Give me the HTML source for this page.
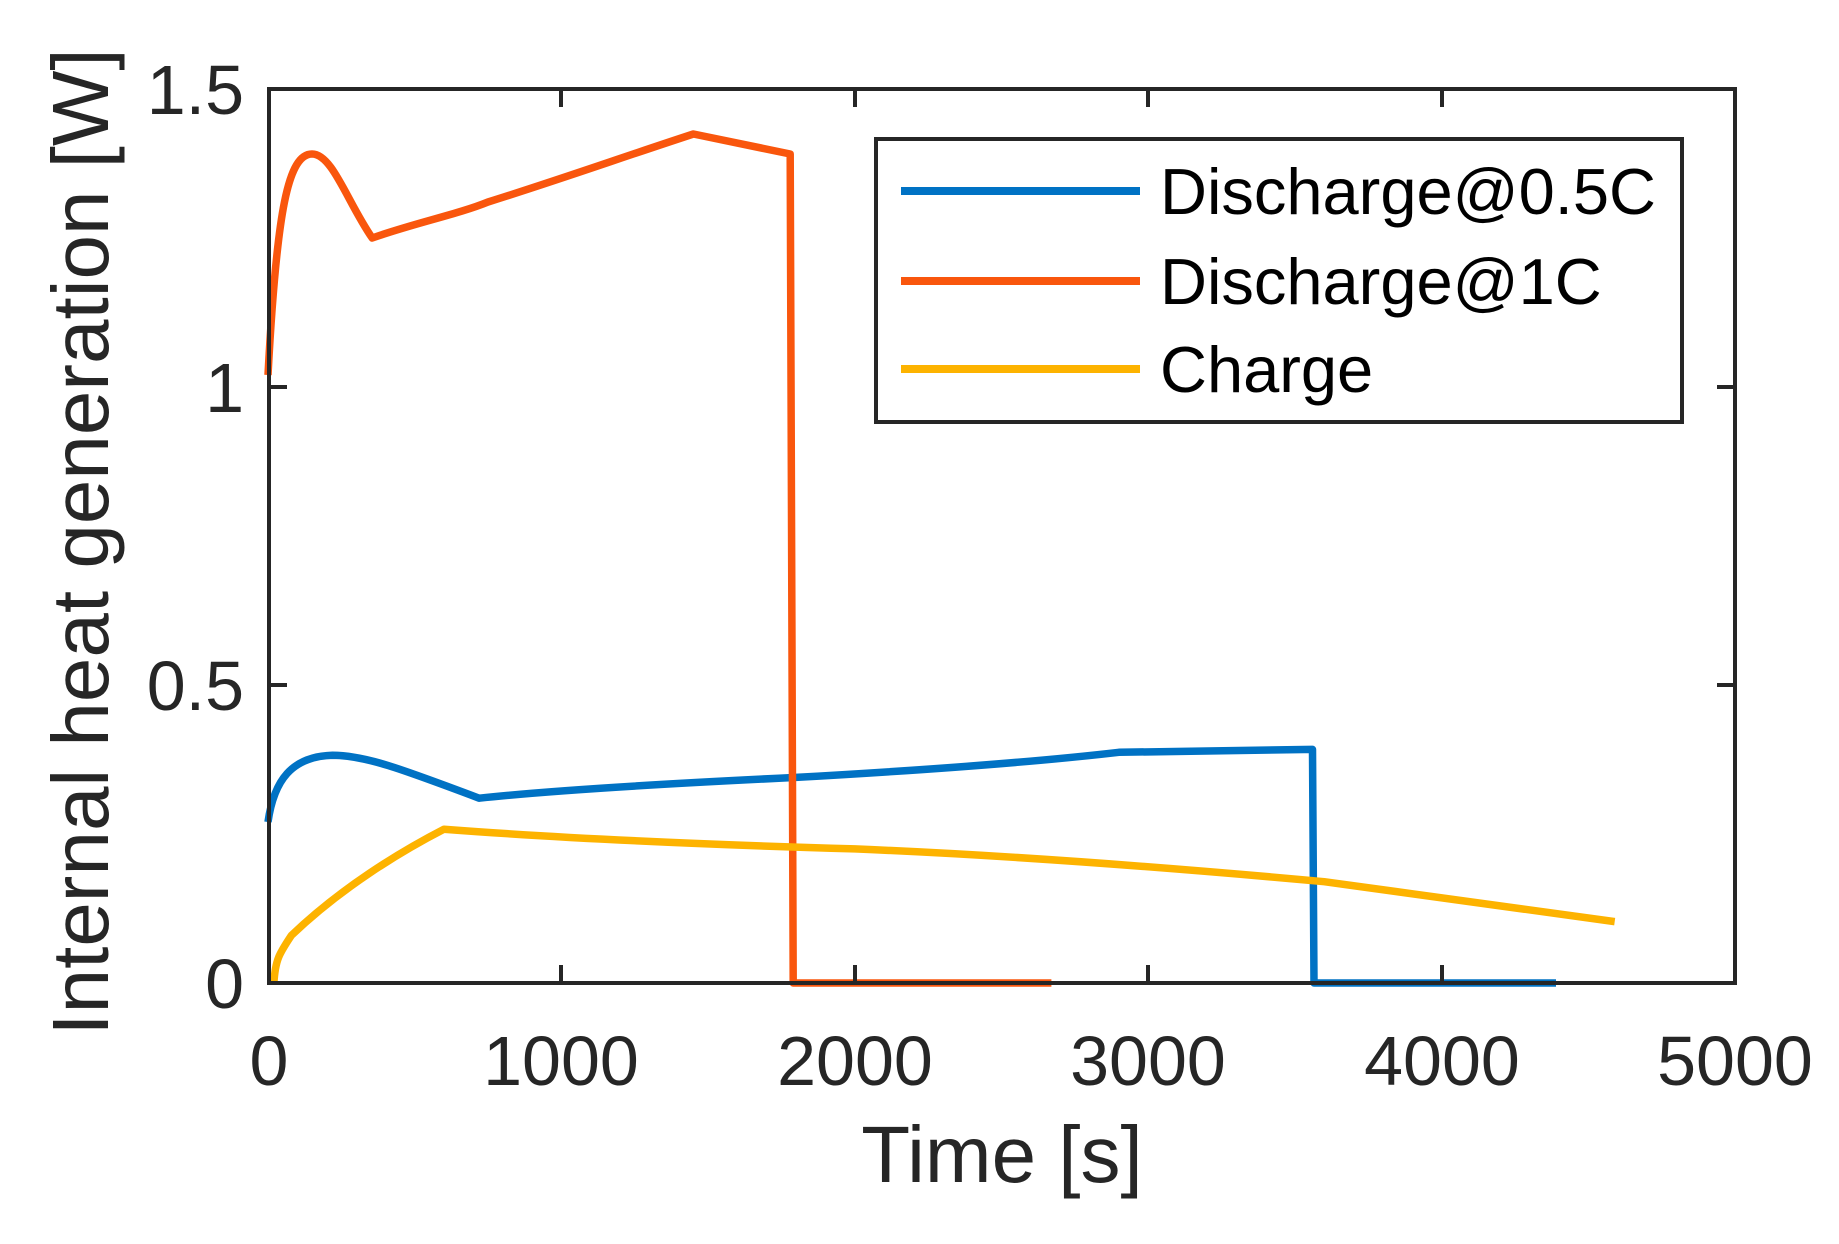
<!DOCTYPE html>
<html><head><meta charset="utf-8"><style>
html,body{margin:0;padding:0;background:#fff}
svg{display:block}
text{font-family:"Liberation Sans",Arial,sans-serif;fill:#262626}
</style></head><body>
<svg width="1839" height="1244" viewBox="0 0 1839 1244" xmlns="http://www.w3.org/2000/svg">
<rect width="1839" height="1244" fill="#fff"/>
<g fill="none" stroke-width="7.5" stroke-linejoin="round">
<path stroke="#0072C4" d="M268,822 C273.9,780.4 291.5,756.5 332.5,755.3 C364.8,755.3 400,768.4 479.2,798.2 C561.4,789.3 708.1,781.6 796.1,777.4 C913.5,770.8 1030.8,762.5 1118.9,752.3 L1312.5,749.4 L1314,983 L1556,983"/>
<path stroke="#F9560D" d="M268,375 C276.8,208 288.5,154 312,154 C332.5,154 347.2,202 372.2,238 C414.7,223 458.7,214 488,202 C561.4,179 620,158 693.4,134 L790.2,154 L793.2,983 L1051.4,983"/>
<path stroke="#FDB300" d="M273.9,983 C275.3,959.2 279.7,953.2 291.5,935.3 C341.4,887.6 400,851.9 444,829.2 C561.4,838.2 708.1,844.7 854.8,848.9 C1001.5,854.9 1148.2,865.6 1324.2,881.7 L1614.7,921.6"/>
</g>
<g stroke="#262626" stroke-width="4" fill="none">
<rect x="269" y="89" width="1466" height="894"/>
<path d="M561,983v-18M855,983v-18M1148,983v-18M1442,983v-18M561,89v18M855,89v18M1148,89v18M1442,89v18M269,685h18M269,387h18M1735,685h-18M1735,387h-18"/>
</g>
<g font-size="70" text-anchor="middle">
<text x="269" y="1085">0</text>
<text x="561" y="1085">1000</text>
<text x="855" y="1085">2000</text>
<text x="1148" y="1085">3000</text>
<text x="1442" y="1085">4000</text>
<text x="1735" y="1085">5000</text>
</g>
<g font-size="70" text-anchor="end">
<text x="244" y="1008">0</text>
<text x="244" y="710">0.5</text>
<text x="244" y="412">1</text>
<text x="244" y="114">1.5</text>
</g>
<text x="1002" y="1182" font-size="80" text-anchor="middle">Time [s]</text>
<text transform="translate(108,542) rotate(-90)" font-size="80" text-anchor="middle">Internal heat generation [W]</text>
<rect x="876" y="139" width="806" height="283" fill="#fff" stroke="#262626" stroke-width="4"/>
<g stroke-width="8">
<line x1="901" y1="191" x2="1140" y2="191" stroke="#0072C4"/>
<line x1="901" y1="281" x2="1140" y2="281" stroke="#F9560D"/>
<line x1="901" y1="369" x2="1140" y2="369" stroke="#FDB300"/>
</g>
<g font-size="65">
<text x="1160" y="214" style="fill:#000">Discharge@0.5C</text>
<text x="1160" y="304" style="fill:#000">Discharge@1C</text>
<text x="1160" y="392" style="fill:#000">Charge</text>
</g>
</svg>
</body></html>
